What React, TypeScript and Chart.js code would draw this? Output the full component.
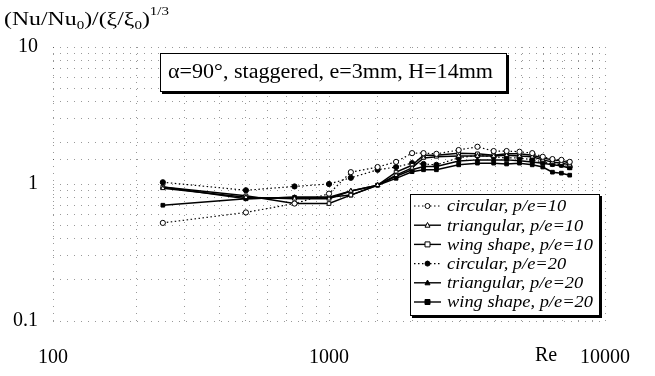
import React, { useEffect, useRef } from 'react';
import { Chart, registerables } from 'chart.js';

Chart.register(...registerables);

// Reynolds numbers (x)
const reynolds = [250, 500, 750, 1000, 1200, 1500, 1750, 2000, 2200, 2450, 2950, 3450, 3950, 4400, 4900, 5450, 5950, 6450, 6950, 7450];

// (Nu/Nu0)/(xi/xi0)^(1/3)
const circular10 = [0.52, 0.62, 0.72, 0.85, 1.22, 1.33, 1.45, 1.68, 1.68, 1.66, 1.77, 1.87, 1.74, 1.74, 1.72, 1.68, 1.58, 1.52, 1.50, 1.45];
const triangular10 = [0.93, 0.80, 0.78, 0.78, 0.89, 0.98, 1.16, 1.31, 1.55, 1.58, 1.60, 1.60, 1.60, 1.62, 1.60, 1.58, 1.50, 1.45, 1.42, 1.38];
const wing10 = [0.95, 0.82, 0.72, 0.72, 0.83, 0.98, 1.22, 1.37, 1.62, 1.62, 1.68, 1.66, 1.62, 1.66, 1.66, 1.62, 1.55, 1.50, 1.48, 1.42];
const circular20 = [1.03, 0.90, 0.96, 1.00, 1.11, 1.27, 1.33, 1.42, 1.40, 1.38, 1.55, 1.62, 1.58, 1.55, 1.55, 1.50, 1.45, 1.40, 1.38, 1.33];
const triangular20 = [0.95, 0.78, 0.80, 0.80, 0.89, 0.98, 1.14, 1.27, 1.34, 1.34, 1.47, 1.50, 1.50, 1.50, 1.48, 1.45, 1.42, 1.38, 1.36, 1.30];
const wing20 = [0.70, 0.78, 0.80, 0.80, 0.83, 0.98, 1.10, 1.23, 1.27, 1.27, 1.38, 1.42, 1.42, 1.40, 1.42, 1.38, 1.33, 1.22, 1.20, 1.16];

const seriesLabels = [
  'circular, p/e=10',
  'triangular, p/e=10',
  'wing shape, p/e=10',
  'circular, p/e=20',
  'triangular, p/e=20',
  'wing shape, p/e=20',
];
const seriesValues = [circular10, triangular10, wing10, circular20, triangular20, wing20];
const seriesShapes = ['circle', 'triangle', 'rect', 'circle', 'triangle', 'rect'];
const seriesFilled = [false, false, false, true, true, true];
const seriesDotted = [true, false, false, true, false, false];

const xTickLabels = [100, 1000, 10000];
const yTickLabels = [0.1, 1, 10];
const titleText = 'α=90°, staggered, e=3mm, H=14mm';
const xAxisLabel = 'Re';

const SERIF = '"Liberation Serif", "DejaVu Serif", serif';

function isDecade(v: number) {
  const l = Math.log10(v);
  return Math.abs(l - Math.round(l)) < 1e-6;
}

function drawMarker(ctx: CanvasRenderingContext2D, shape: string, x: number, y: number, r: number, filled: boolean) {
  ctx.save();
  ctx.beginPath();
  if (shape === 'circle') {
    ctx.arc(x, y, r, 0, Math.PI * 2);
  } else if (shape === 'triangle') {
    ctx.moveTo(x, y - r * 1.1);
    ctx.lineTo(x + r, y + r * 0.8);
    ctx.lineTo(x - r, y + r * 0.8);
    ctx.closePath();
  } else {
    ctx.rect(x - r, y - r, r * 2, r * 2);
  }
  ctx.fillStyle = filled ? '#000' : '#fff';
  ctx.fill();
  ctx.setLineDash([]);
  ctx.lineWidth = 1;
  ctx.strokeStyle = '#000';
  ctx.stroke();
  ctx.restore();
}

// draws text horizontally stretched to a target width
function fitText(ctx: CanvasRenderingContext2D, text: string, x: number, y: number, width: number) {
  const w = ctx.measureText(text).width;
  ctx.save();
  ctx.translate(x, y);
  ctx.scale(width / w, 1);
  ctx.fillText(text, 0, 0);
  ctx.restore();
}

const annotationPlugin = {
  id: 'annotations',
  afterDraw(chart: any) {
    const ctx: CanvasRenderingContext2D = chart.ctx;
    ctx.save();
    ctx.fillStyle = '#000';
    ctx.strokeStyle = '#000';

    // Y axis title with sub/superscripts
    const parts: [string, number, number][] = [
      ['(Nu/Nu', 19, 0],
      ['0', 12, 4],
      [')/(ξ/ξ', 19, 0],
      ['0', 12, 4],
      [')', 19, 0],
      ['1/3', 12, -10],
    ];
    let total = 0;
    for (const [t, size] of parts) {
      ctx.font = `${size}px ${SERIF}`;
      total += ctx.measureText(t).width;
    }
    const stretch = 165 / total;
    ctx.save();
    ctx.translate(4, 25);
    ctx.scale(stretch, 1);
    ctx.textBaseline = 'alphabetic';
    ctx.textAlign = 'left';
    let tx = 0;
    for (const [t, size, dy] of parts) {
      ctx.font = `${size}px ${SERIF}`;
      ctx.fillText(t, tx, dy);
      tx += ctx.measureText(t).width;
    }
    ctx.restore();

    // x axis label "Re"
    ctx.font = `20px ${SERIF}`;
    ctx.textAlign = 'center';
    ctx.textBaseline = 'middle';
    ctx.fillText(xAxisLabel, 546, 356);

    // Title box
    const bx = 160, by = 53, bw = 347, bh = 39;
    ctx.fillStyle = '#000';
    ctx.fillRect(bx + 2, by + 2, bw, bh);
    ctx.fillStyle = '#fff';
    ctx.fillRect(bx, by, bw, bh);
    ctx.lineWidth = 1;
    ctx.strokeRect(bx + 0.5, by + 0.5, bw - 1, bh - 1);
    ctx.fillStyle = '#000';
    ctx.font = `20px ${SERIF}`;
    ctx.textAlign = 'left';
    ctx.textBaseline = 'alphabetic';
    fitText(ctx, titleText, 168, 78, 325);

    // Legend box
    const lx = 410, ly = 194, lw = 190, lh = 122;
    ctx.fillStyle = '#000';
    ctx.fillRect(lx + 2, ly + 2, lw, lh);
    ctx.fillStyle = '#fff';
    ctx.fillRect(lx, ly, lw, lh);
    ctx.strokeRect(lx + 0.5, ly + 0.5, lw - 1, lh - 1);
    ctx.font = `italic 17px ${SERIF}`;
    ctx.textBaseline = 'middle';
    const refW = ctx.measureText(seriesLabels[2]).width;
    const legendStretch = 146 / refW;
    for (let i = 0; i < seriesLabels.length; i++) {
      const y = 206 + i * 19.2;
      ctx.save();
      ctx.beginPath();
      ctx.lineWidth = seriesDotted[i] ? 1.2 : 1.4;
      ctx.setLineDash(seriesDotted[i] ? [1.5, 2.5] : []);
      ctx.moveTo(414, y);
      ctx.lineTo(441, y);
      ctx.stroke();
      ctx.restore();
      drawMarker(ctx, seriesShapes[i], 427.5, y, 2.5, seriesFilled[i]);
      ctx.fillStyle = '#000';
      const w = ctx.measureText(seriesLabels[i]).width;
      fitText(ctx, seriesLabels[i], 447, y + 1, w * legendStretch);
    }
    ctx.restore();
  },
};

export default function App() {
  const canvasRef = useRef<HTMLCanvasElement | null>(null);

  useEffect(() => {
    document.body.style.margin = '0';
    const canvas = canvasRef.current;
    if (!canvas) return;

    const datasets = seriesLabels.map((label, i) => ({
      label,
      data: reynolds.map((re, j) => ({ x: re, y: seriesValues[i][j] })),
      borderColor: '#000',
      backgroundColor: seriesFilled[i] ? '#000' : '#fff',
      borderWidth: seriesDotted[i] ? 1.2 : 1.5,
      borderDash: seriesDotted[i] ? [1.5, 2.5] : [],
      pointStyle: seriesShapes[i],
      pointRadius: 2.6,
      pointBorderWidth: 1,
      pointBorderColor: '#000',
      pointBackgroundColor: seriesFilled[i] ? '#000' : '#fff',
      tension: 0,
      fill: false,
    }));

    const gridColor = 'rgba(0,0,0,0.4)';

    const chart = new Chart(canvas, {
      type: 'line',
      data: { datasets },
      options: {
        responsive: false,
        animation: false,
        layout: { padding: { top: 47, right: 38, left: 0, bottom: 0 } },
        plugins: {
          legend: { display: false },
          tooltip: { enabled: false },
        },
        scales: {
          x: {
            type: 'logarithmic',
            min: xTickLabels[0],
            max: xTickLabels[xTickLabels.length - 1],
            border: { display: false, dash: [1, 6] },
            grid: {
              color: gridColor,
              lineWidth: 1,
              drawTicks: false,
            },
            ticks: {
              autoSkip: false,
              maxRotation: 0,
              padding: 25,
              color: '#000',
              font: { family: SERIF, size: 20 },
              callback: (v: any) => (xTickLabels.some((t) => Math.abs(t - Number(v)) < 1e-6) ? String(Number(v)) : ''),
            },
            afterFit: (scale: any) => {
              scale.height = 55;
            },
          } as any,
          y: {
            type: 'logarithmic',
            min: yTickLabels[0],
            max: yTickLabels[yTickLabels.length - 1],
            border: { display: false, dash: [1, 6] },
            grid: {
              color: gridColor,
              lineWidth: 1,
              drawTicks: false,
            },
            ticks: {
              autoSkip: false,
              padding: 15,
              color: '#000',
              font: { family: SERIF, size: 20 },
              callback: (v: any) => (isDecade(Number(v)) && yTickLabels.some((t) => Math.abs(t - Number(v)) < 1e-9) ? String(Number(v)) : ''),
            },
            afterFit: (scale: any) => {
              scale.width = 53;
            },
          } as any,
        },
      },
      plugins: [annotationPlugin],
    });

    return () => chart.destroy();
  }, []);

  return <canvas ref={canvasRef} width={655} height={376} style={{ display: 'block' }} />;
}
